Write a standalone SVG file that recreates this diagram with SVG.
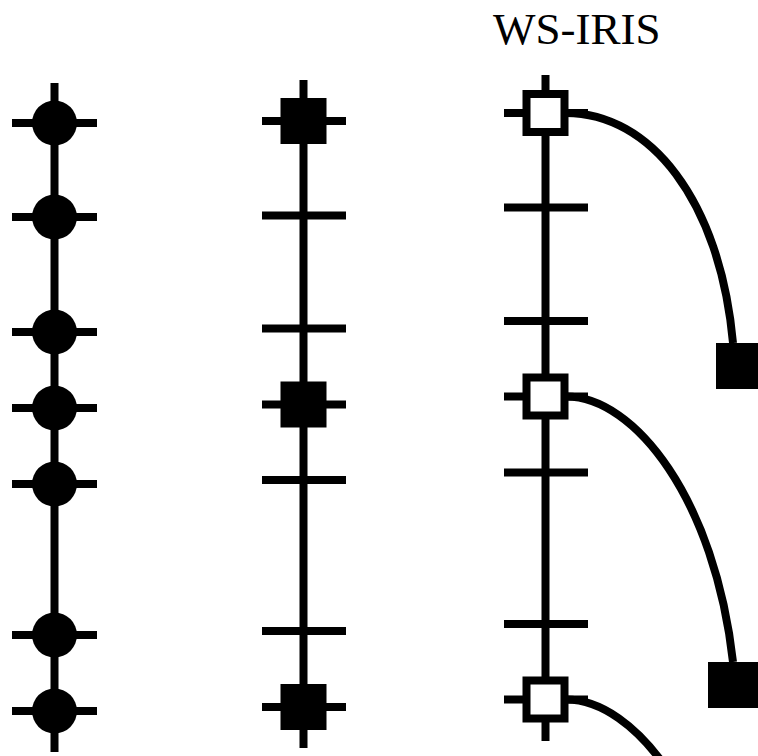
<svg xmlns="http://www.w3.org/2000/svg" width="758" height="756" viewBox="0 0 758 756">
<style>
.ln{stroke:#000;stroke-width:8;fill:none}
.fc{fill:#000}
.os{fill:#fff;stroke:#000;stroke-width:8}
.lbl{font-family:"Liberation Serif","Times New Roman",serif;font-size:45px;fill:#000}
</style>
<rect width="758" height="756" fill="#fff"/>
<text class="lbl" x="493" y="44">WS-IRIS</text>
<g id="connectors">
<path class="ln" d="M54.5,83 V752"/>
<path class="ln" d="M303.5,80 V748"/>
<path class="ln" d="M545.5,75 V741"/>
<path class="ln" d="M566,113 C650,113 720,200 733,343"/>
<path class="ln" d="M566,396.5 C635,396.5 715,500 733,662"/>
<path class="ln" d="M566,699.5 C635,699.5 715,803 733,965"/>
</g>
<g id="col1">
<g id="c1n1"><path class="ln" d="M12,123 H97"/><circle class="fc" cx="54.5" cy="123" r="22.5"/></g>
<g id="c1n2"><path class="ln" d="M12,217 H97"/><circle class="fc" cx="54.5" cy="217" r="22.5"/></g>
<g id="c1n3"><path class="ln" d="M12,332 H97"/><circle class="fc" cx="54.5" cy="332" r="22.5"/></g>
<g id="c1n4"><path class="ln" d="M12,408 H97"/><circle class="fc" cx="54.5" cy="408" r="22.5"/></g>
<g id="c1n5"><path class="ln" d="M12,484 H97"/><circle class="fc" cx="54.5" cy="484" r="22.5"/></g>
<g id="c1n6"><path class="ln" d="M12,635 H97"/><circle class="fc" cx="54.5" cy="635" r="22.5"/></g>
<g id="c1n7"><path class="ln" d="M12,711 H97"/><circle class="fc" cx="54.5" cy="711" r="22.5"/></g>
</g>
<g id="col2">
<g id="c2n1"><path class="ln" d="M262,121 H346"/><rect class="fc" x="280.5" y="98" width="46" height="46"/></g>
<g id="c2n2"><path class="ln" d="M262,215.5 H346"/></g>
<g id="c2n3"><path class="ln" d="M262,328.5 H346"/></g>
<g id="c2n4"><path class="ln" d="M262,404.5 H346"/><rect class="fc" x="280.5" y="381.5" width="46" height="46"/></g>
<g id="c2n5"><path class="ln" d="M262,480 H346"/></g>
<g id="c2n6"><path class="ln" d="M262,631 H346"/></g>
<g id="c2n7"><path class="ln" d="M262,707 H346"/><rect class="fc" x="280.5" y="684" width="46" height="46"/></g>
</g>
<g id="col3">
<g id="c3n1"><path class="ln" d="M504,113 H588"/><rect class="os" x="526.5" y="94" width="38" height="38"/></g>
<g id="c3n2"><path class="ln" d="M504,207.5 H588"/></g>
<g id="c3n3"><path class="ln" d="M504,321 H588"/></g>
<g id="c3n4"><path class="ln" d="M504,396.5 H588"/><rect class="os" x="526.5" y="377.5" width="38" height="38"/></g>
<g id="c3n5"><path class="ln" d="M504,472.5 H588"/></g>
<g id="c3n6"><path class="ln" d="M504,624 H588"/></g>
<g id="c3n7"><path class="ln" d="M504,699.5 H588"/><rect class="os" x="526.5" y="680.5" width="38" height="38"/></g>
</g>
<g id="targets">
<g id="t1"><rect class="fc" x="716" y="343" width="46" height="46"/></g>
<g id="t2"><rect class="fc" x="708" y="662" width="50" height="46"/></g>
</g>
</svg>
